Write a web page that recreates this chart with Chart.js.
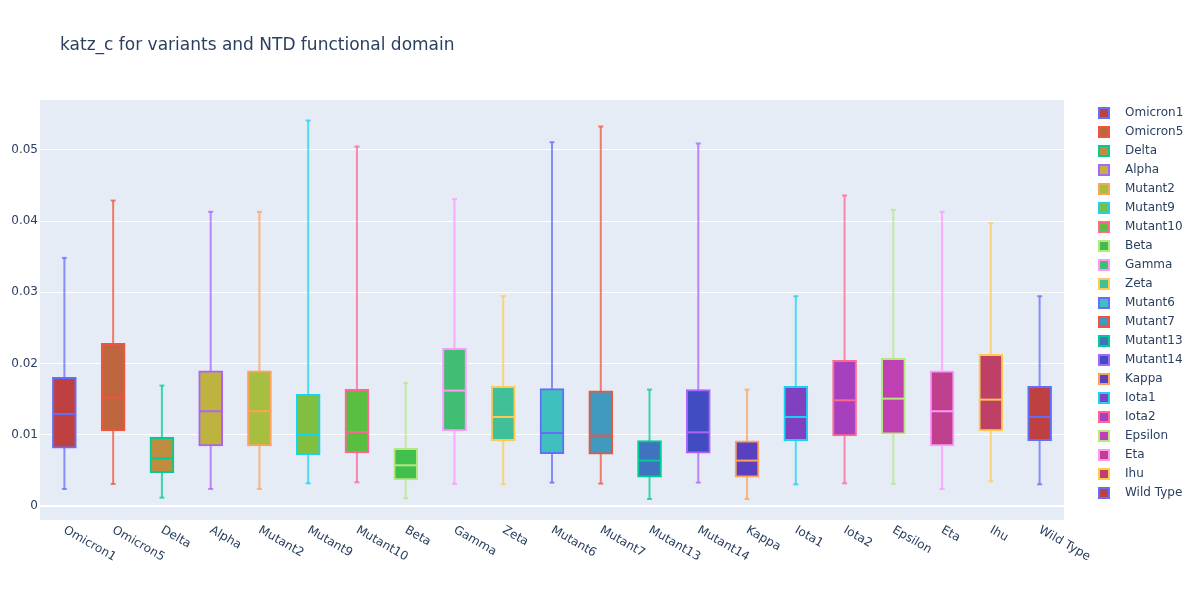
<!DOCTYPE html>
<html>
<head>
<meta charset="utf-8">
<script src="https://cdn.jsdelivr.net/npm/chart.js@4.4.1/dist/chart.umd.min.js"></script>
<style>
  html, body { margin: 0; padding: 0; background: #fff; }
  #wrap { width: 1200px; height: 600px; }
</style>
</head>
<body>
<div id="wrap"><canvas id="c" width="1200" height="600"></canvas></div>
<script>
const titleText = 'katz_c for variants and NTD functional domain';
const categories = ['Omicron1','Omicron5','Delta','Alpha','Mutant2','Mutant9','Mutant10','Beta','Gamma','Zeta','Mutant6','Mutant7','Mutant13','Mutant14','Kappa','Iota1','Iota2','Epsilon','Eta','Ihu','Wild Type'];
const lowerFence = [0.00239,0.00309,0.00117,0.00239,0.00239,0.00318,0.00332,0.00108,0.00309,0.00304,0.00328,0.00314,0.00098,0.00328,0.00098,0.00304,0.00318,0.00309,0.00239,0.00346,0.00304];
const q1 = [0.00810,0.01053,0.00468,0.00843,0.00843,0.00721,0.00744,0.00365,0.01053,0.00918,0.00735,0.00726,0.00403,0.00740,0.00403,0.00918,0.00983,0.01007,0.00843,0.01053,0.00918];
const median = [0.01292,0.01526,0.00670,0.01330,0.01330,0.01007,0.01039,0.00571,0.01620,0.01250,0.01025,0.00988,0.00637,0.01034,0.00637,0.01250,0.01484,0.01507,0.01330,0.01493,0.01250];
const q3 = [0.01807,0.02285,0.00964,0.01896,0.01896,0.01568,0.01639,0.00810,0.02214,0.01681,0.01648,0.01615,0.00918,0.01634,0.00913,0.01681,0.02046,0.02074,0.01896,0.02130,0.01681];
const upperFence = [0.03483,0.04288,0.01690,0.04130,0.04130,0.05412,0.05047,0.01728,0.04307,0.02945,0.05108,0.05328,0.01634,0.05089,0.01634,0.02945,0.04359,0.04157,0.04130,0.03970,0.02945];
const yTickValues = [0, 0.01, 0.02, 0.03, 0.04, 0.05];
const yTickLabels = ['0', '0.01', '0.02', '0.03', '0.04', '0.05'];
const yRange = [-0.00197, 0.0570];

const lineColors = ['#636efa','#EF553B','#00cc96','#ab63fa','#FFA15A','#19d3f3','#FF6692','#B6E880','#FF97FF','#FECB52',
                    '#636efa','#EF553B','#00cc96','#ab63fa','#FFA15A','#19d3f3','#FF6692','#B6E880','#FF97FF','#FECB52','#636efa'];
const fillColors = ['hsl(0,50%,50%)','hsl(18,50%,50%)','hsl(36,50%,50%)','hsl(54,50%,50%)','hsl(72,50%,50%)','hsl(90,50%,50%)',
                    'hsl(108,50%,50%)','hsl(126,50%,50%)','hsl(144,50%,50%)','hsl(162,50%,50%)','hsl(180,50%,50%)','hsl(198,50%,50%)',
                    'hsl(216,50%,50%)','hsl(234,50%,50%)','hsl(252,50%,50%)','hsl(270,50%,50%)','hsl(288,50%,50%)','hsl(306,50%,50%)',
                    'hsl(324,50%,50%)','hsl(342,50%,50%)','hsl(360,50%,50%)'];

const FONT = 'DejaVu Sans';
const TXT = '#2a3f5f';

function withAlpha(hex, a) {
  const n = parseInt(hex.slice(1), 16);
  return `rgba(${(n >> 16) & 255},${(n >> 8) & 255},${n & 255},${a})`;
}
const whiskerColors = lineColors.map(c => withAlpha(c, 0.75));

// legend swatches (square + transparent gap so text lands where plotly puts it)
const swatches = categories.map((c, i) => {
  const cv = document.createElement('canvas');
  cv.width = 21; cv.height = 12;
  const g = cv.getContext('2d');
  g.fillStyle = fillColors[i];
  g.fillRect(1, 1, 10, 10);
  g.strokeStyle = lineColors[i];
  g.lineWidth = 2;
  g.strokeRect(1, 1, 10, 10);
  return cv;
});

const layoutPlugin = {
  id: 'plotlyLayout',
  beforeLayout(chart) {
    if (chart.legend && !chart.legend._patched) {
      const f = chart.legend.fit;
      chart.legend.fit = function () { f.call(this); this.width = 136; };
      chart.legend._patched = true;
    }
    const xs = chart.scales.x;
    if (xs && !xs._patched) {
      xs._getXAxisLabelAlignment = function () { return 'left'; };
      xs._patched = true;
    }
  },
  afterLayout(chart) {
    if (chart.legend) { chart.legend.left += 27; chart.legend.right += 27; }
    if (chart.titleBlock) { chart.titleBlock.left += 60; chart.titleBlock.right += 60; }
  },
  beforeDraw(chart) {
    const {ctx, chartArea: a} = chart;
    ctx.save();
    ctx.fillStyle = '#E5ECF6';
    ctx.fillRect(a.left, a.top, a.right - a.left, a.bottom - a.top);
    ctx.restore();
  }
};

new Chart(document.getElementById('c'), {
  type: 'bar',
  data: {
    labels: categories,
    datasets: [
      {
        type: 'line', label: 'median', data: median, showLine: false,
        pointStyle: 'line', pointRadius: 11, pointHoverRadius: 11, pointBorderWidth: 2,
        pointBorderColor: lineColors, pointBackgroundColor: lineColors, order: 0
      },
      {
        type: 'line', label: 'upper cap', data: upperFence, showLine: false,
        pointStyle: 'line', pointRadius: 2.5, pointBorderWidth: 2,
        pointBorderColor: whiskerColors, order: 0
      },
      {
        type: 'line', label: 'lower cap', data: lowerFence, showLine: false,
        pointStyle: 'line', pointRadius: 2.5, pointBorderWidth: 2,
        pointBorderColor: whiskerColors, order: 0
      },
      {
        type: 'bar', label: 'box', data: q1.map((v, i) => [v, q3[i]]),
        backgroundColor: fillColors, borderColor: lineColors, borderWidth: 2, borderSkipped: false,
        barThickness: 24, grouped: false, order: 1
      },
      {
        type: 'bar', label: 'whisker', data: lowerFence.map((v, i) => [v, upperFence[i]]),
        backgroundColor: whiskerColors, borderWidth: 0, borderSkipped: false, inflateAmount: 0,
        barThickness: 2, grouped: false, order: 2
      }
    ]
  },
  options: {
    responsive: false,
    animation: false,
    events: [],
    layout: { padding: { top: 0, left: 0, right: 0, bottom: 0 } },
    plugins: {
      tooltip: { enabled: false },
      title: {
        display: true, text: titleText, align: 'start', color: TXT,
        font: { family: FONT, size: 17, weight: 'normal' },
        padding: { top: 35, bottom: 44.6 }
      },
      legend: {
        display: true, position: 'right', align: 'start', fullSize: false,
        labels: {
          usePointStyle: true, pointStyleWidth: 21, boxHeight: 12, padding: 7,
          color: TXT, font: { family: FONT, size: 12 }, textAlign: 'left',
          generateLabels: () => categories.map((c, i) => ({
            text: c, pointStyle: swatches[i], fillStyle: fillColors[i], strokeStyle: lineColors[i],
            lineWidth: 0, hidden: false, textAlign: 'left', datasetIndex: 3, index: i, fontColor: TXT
          }))
        }
      }
    },
    scales: {
      x: {
        type: 'category', offset: true,
        grid: { display: false, drawTicks: false },
        border: { display: false },
        ticks: {
          color: TXT, font: { family: FONT, size: 12 },
          minRotation: -30, maxRotation: -30, autoSkip: false, padding: 3
        },
        afterFit: (s) => { s.height = 80; }
      },
      y: {
        type: 'linear', min: yRange[0], max: yRange[1],
        grid: {
          color: '#ffffff', drawTicks: false,
          lineWidth: (c) => (c.tick && c.tick.value === 0 ? 2 : 1)
        },
        border: { display: false },
        afterBuildTicks: (s) => { s.ticks = yTickValues.map(v => ({ value: v })); },
        ticks: {
          color: TXT, font: { family: FONT, size: 12 }, padding: 2,
          callback: (v, i) => yTickLabels[i]
        },
        afterFit: (s) => { s.width = 40; }
      }
    }
  },
  plugins: [layoutPlugin]
});
</script>
</body>
</html>
